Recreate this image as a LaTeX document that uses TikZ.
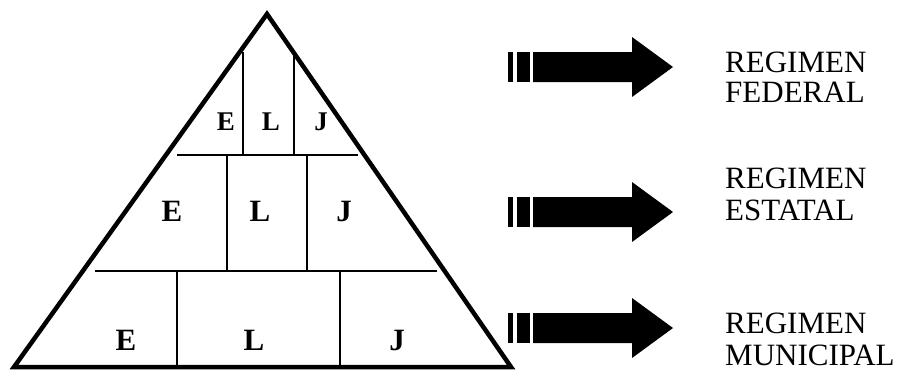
\documentclass[tikz,border=0pt]{standalone}
\usepackage{fontspec}
\setmainfont{Liberation Serif}
\begin{document}
\begin{tikzpicture}[x=1pt,y=-1pt,
  tri/.style={line width=4.5pt,line join=miter},
  part/.style={line width=1.3pt},
  letA/.style={font=\fontsize{27}{27}\selectfont\bfseries,inner sep=0pt,anchor=base},
  letB/.style={font=\fontsize{31}{31}\selectfont\bfseries,inner sep=0pt,anchor=base},
  lbl/.style={font=\fontsize{31}{31}\selectfont,inner sep=0pt,anchor=base west},
  bigarrow/.style={fill=black,draw=none}]
\useasboundingbox (0,0) rectangle (902,376);
% pyramid
\coordinate (apex) at (267,14);
\coordinate (bl) at (14,367);
\coordinate (br) at (511,367);
\draw[tri] (apex) -- (bl) -- (br) -- cycle;
% horizontal dividers
\coordinate (h1a) at (177,155); \coordinate (h1b) at (358,155);
\coordinate (h2a) at (95,271);  \coordinate (h2b) at (437,271);
\draw[part] (h1a) -- (h1b);
\draw[part] (h2a) -- (h2b);
% top tier verticals
\coordinate (t1a) at (243,52); \coordinate (t1b) at (243,155);
\coordinate (t2a) at (294,52); \coordinate (t2b) at (294,155);
\draw[part] (t1a) -- (t1b);
\draw[part] (t2a) -- (t2b);
% middle tier verticals
\coordinate (m1a) at (227,155); \coordinate (m1b) at (227,271);
\coordinate (m2a) at (307,155); \coordinate (m2b) at (307,271);
\draw[part] (m1a) -- (m1b);
\draw[part] (m2a) -- (m2b);
% bottom tier verticals
\coordinate (b1a) at (177,271); \coordinate (b1b) at (177,367);
\coordinate (b2a) at (340,271); \coordinate (b2b) at (340,367);
\draw[part] (b1a) -- (b1b);
\draw[part] (b2a) -- (b2b);
% letters
\node[letA] (tE) at (226,130) {E};
\node[letA] (tL) at (271,130) {L};
\node[letA] (tJ) at (321,130) {J};
\node[letB] (mE) at (172,221) {E};
\node[letB] (mL) at (260,221) {L};
\node[letB] (mJ) at (344,221) {J};
\node[letB] (bE) at (126,350) {E};
\node[letB] (bL) at (254,350) {L};
\node[letB] (bJ) at (397,350) {J};
% arrows
\foreach \cy/\nm in {67/af,212/as,328/am}{
  \fill[bigarrow] (508,\cy-15) rectangle (513,\cy+15);
  \fill[bigarrow] (517,\cy-15) rectangle (530,\cy+15);
  \fill[bigarrow] (533,\cy-15) -- (632,\cy-15) -- (632,\cy-30) -- (673,\cy)
     -- (632,\cy+30) -- (632,\cy+15) -- (533,\cy+15) -- cycle;
  \coordinate (\nm) at (673,\cy);
}
% labels
\node[lbl] (f1) at (725,72) {REGIMEN};
\node[lbl] (f2) at (725,102) {FEDERAL};
\node[lbl] (s1) at (725,188) {REGIMEN};
\node[lbl] (s2) at (725,220) {ESTATAL};
\node[lbl] (u1) at (725,333) {REGIMEN};
\node[lbl] (u2) at (725,365) {MUNICIPAL};
\end{tikzpicture}
\end{document}
